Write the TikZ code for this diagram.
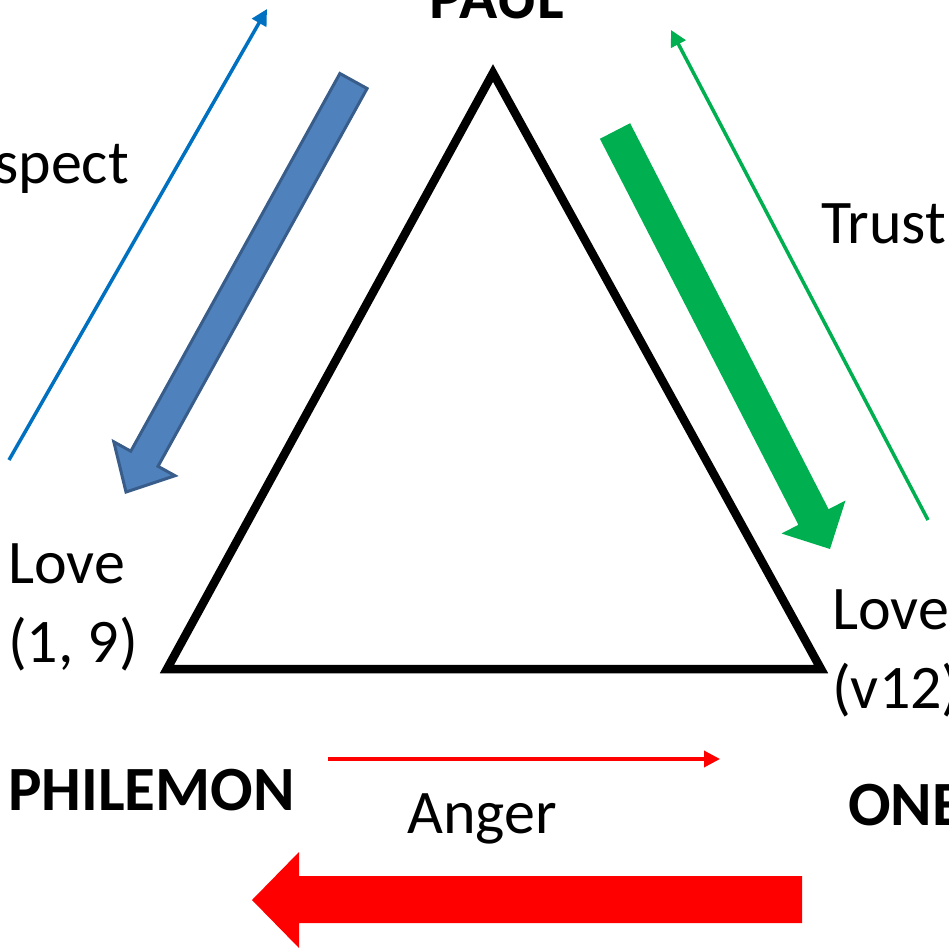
\documentclass[tikz,border=0pt]{standalone}
\usepackage{fontspec}
\setmainfont{Carlito}
\usetikzlibrary{arrows.meta}

\definecolor{respblue}{HTML}{0070C0}
\definecolor{loveblue}{HTML}{4F81BD}
\definecolor{loveedge}{HTML}{385D8A}
\definecolor{trustgreen}{HTML}{00B050}
\definecolor{angerred}{HTML}{FF0000}

\begin{document}
\begin{tikzpicture}[x=1pt, y=-1pt,
    lbl/.style={inner sep=0pt, align=left, font=\fontsize{62}{79}\selectfont},
    who/.style={inner sep=0pt, font=\fontsize{63}{79}\selectfont\bfseries},
    thinarr/.style={line width=3.5pt, -{Triangle[length=16pt,width=16pt]}}]
  \useasboundingbox (0,0) rectangle (949,951);
  \clip (0,0) rectangle (949,951);

  % the three people
  \coordinate (paul) at (493,73);
  \coordinate (phil) at (167,669);
  \coordinate (ones) at (821,669);
  \draw[line width=8.5pt] (paul) -- (phil) -- (ones) -- cycle;

  \node[who, anchor=base] (paulname) at (497,18) {PAUL};
  \node[who, anchor=base west] (philname) at (8,810) {PHILEMON};
  \node[who, anchor=base west] (onesname) at (848,825) {ONESIMUS};

  % Paul and Philemon
  \coordinate (resp-a) at (9,460);
  \coordinate (resp-b) at (267,9);
  \draw[thinarr, respblue] (resp-a) -- (resp-b);
  \node[lbl, anchor=base east] (resp) at (129,183) {Respect};
  \filldraw[fill=loveblue, draw=loveedge, line width=3pt]
    (339.9,73.5) -- (367.1,88.5) -- (158.0,466.3) -- (175.0,475.7)
    -- (126,492) -- (113.8,441.8) -- (130.8,451.2) -- cycle;
  \node[lbl, anchor=base west] (lovephil) at (8,662) {Love\\(1, 9)};

  % Paul and Onesimus
  \coordinate (trust-a) at (928,520);
  \coordinate (trust-b) at (671,30);
  \draw[thinarr, trustgreen] (trust-a) -- (trust-b);
  \node[lbl, anchor=base west] (trust) at (821,243) {Trust};
  \fill[trustgreen]
    (599.9,138.8) -- (630.1,123.2) -- (828.6,509.2) -- (845.5,500.5)
    -- (830,549) -- (781.5,533.5) -- (798.4,524.8) -- cycle;
  \node[lbl, anchor=base west] (loveones) at (832,708) {Love\\(v12)};

  % Philemon and Onesimus
  \coordinate (anger-a) at (328,759);
  \coordinate (anger-b) at (720,759);
  \draw[thinarr, angerred] (anger-a) -- (anger-b);
  \node[lbl, anchor=base west] (anger) at (407,833) {Anger};
  \fill[angerred]
    (802,876) -- (802,923) -- (299,923) -- (299,948) -- (252,900)
    -- (299,852) -- (299,876) -- cycle;
\end{tikzpicture}
\end{document}
